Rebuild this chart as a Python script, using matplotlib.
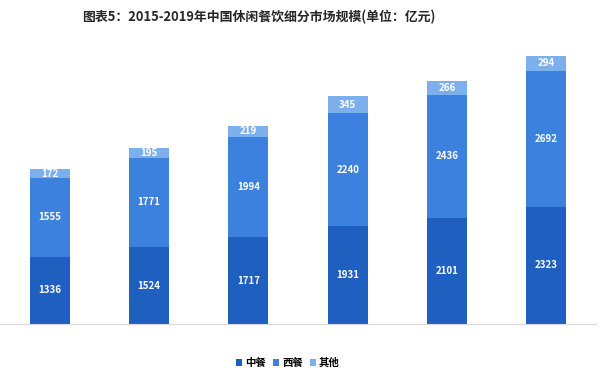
import matplotlib
matplotlib.use("Agg")
import matplotlib.pyplot as plt
import numpy as np

plt.rcParams['font.family'] = ['Noto Sans CJK SC', 'DejaVu Sans']

years = ["2014", "2015", "2016", "2017", "2018", "2019"]
chinese = [1336, 1524, 1717, 1931, 2101, 2323]
western = [1555, 1771, 1994, 2240, 2436, 2692]
other = [172, 195, 219, 345, 266, 294]

series = [("中餐", chinese, "#1f5fc0"),
          ("西餐", western, "#3b81dd"),
          ("其他", other, "#7cafec")]

fig = plt.figure(figsize=(6, 3.74), dpi=100)
ax = fig.add_axes([0.0, 50 / 374, 596 / 600, 303 / 374])

x = np.arange(len(years))
bottom = np.zeros(len(years))
for name, vals, col in series:
    vals = np.array(vals)
    ax.bar(x, vals, 0.4, bottom=bottom, color=col, label=name, zorder=2)
    for xi, b, v in zip(x, bottom, vals):
        ax.text(xi, b + v / 2, str(v), ha="center", va="center",
                color="white", fontsize=7, fontweight="bold", zorder=3)
    bottom = bottom + vals

ax.set_xlim(-0.5, len(years) - 0.5)
ax.set_ylim(0, 6000)
ax.set_xticks([])
ax.set_yticks([])
for s in ["top", "right", "left"]:
    ax.spines[s].set_visible(False)
ax.spines["bottom"].set_color("#d9d9d9")
ax.spines["bottom"].set_linewidth(0.8)

fig.text(259 / 600, 1 - 17 / 374, "图表5：2015-2019年中国休闲餐饮细分市场规模(单位：亿元)",
         ha="center", va="center", fontsize=9.3, fontweight="bold", color="#262626")

leg = fig.legend(loc="center", bbox_to_anchor=(288 / 600, 1 - 363 / 374), ncol=3,
                 frameon=False, handlelength=0.55, handleheight=0.55,
                 handletextpad=0.3, columnspacing=0.7,
                 prop={"size": 7.5, "weight": "bold"})

fig.savefig("out.png", dpi=100)
